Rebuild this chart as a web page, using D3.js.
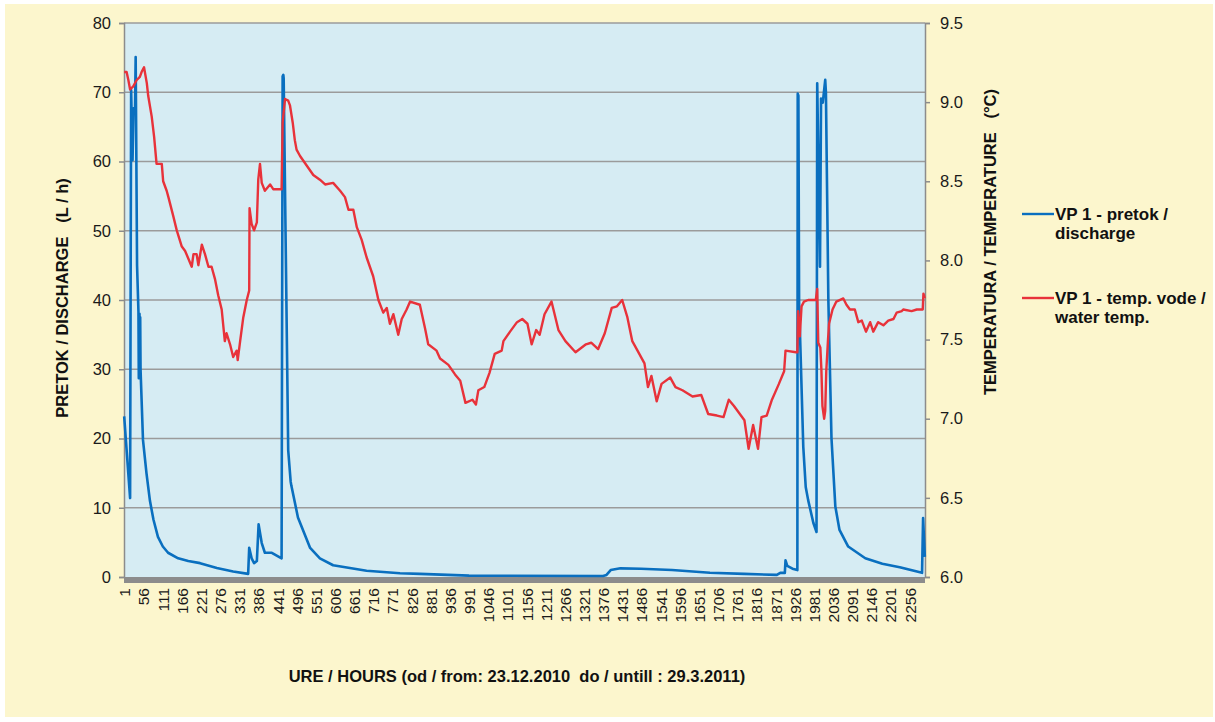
<!DOCTYPE html>
<html>
<head>
<meta charset="utf-8">
<script src="https://cdn.jsdelivr.net/npm/d3@7"></script>
<style>
  html, body { margin: 0; padding: 0; background: #ffffff; }
  svg { display: block; font-family: Arial, "Liberation Sans", sans-serif; }
</style>
</head>
<body>
<div id="chart"></div>
<script>
// hours of the record (23.12.2010 - 29.3.2011)
const hourCount = 2300;

const xTickLabels = [1, 56, 111, 166, 221, 276, 331, 386, 441, 496, 551, 606, 661, 716, 771, 826,
  881, 936, 991, 1046, 1101, 1156, 1211, 1266, 1321, 1376, 1431, 1486, 1541, 1596, 1651, 1706,
  1761, 1816, 1871, 1926, 1981, 2036, 2091, 2146, 2201, 2256];
const flowTicks = [0, 10, 20, 30, 40, 50, 60, 70, 80];
const tempTicks = [6.0, 6.5, 7.0, 7.5, 8.0, 8.5, 9.0, 9.5];

// VP 1 - pretok / discharge (L/h)
const flowHours = [1, 18, 21, 25, 28, 32, 34, 38, 42, 43, 45, 46, 47, 48, 55, 65, 75, 85, 98, 112,
  127, 156, 185, 219, 267, 314, 357, 360, 367, 374, 382, 387, 396, 405, 425, 453, 456, 458, 459,
  472, 479, 481, 500, 535, 563, 601, 697, 793, 850, 991, 1376, 1386, 1398, 1426, 1485, 1574, 1683,
  1781, 1875, 1885, 1898, 1900, 1905, 1920, 1934, 1935, 1937, 1939, 1951, 1958, 1965, 1980, 1989,
  1991, 1999, 2002, 2007, 2014, 2016, 2023, 2032, 2043, 2055, 2080, 2129, 2178, 2228, 2292, 2295, 2300];
const flowValues = [23.2, 11.4, 70.3, 60.2, 67.7, 67.0, 75.1, 45, 38.3, 28.7, 38, 29, 37.5, 30, 19.8,
  15, 11, 8.3, 5.8, 4.4, 3.5, 2.7, 2.3, 2.0, 1.3, 0.8, 0.45, 4.2, 2.7, 2.0, 2.3, 7.6, 4.9, 3.5, 3.5,
  2.7, 72.3, 72.5, 72, 18.3, 13.8, 13.2, 8.6, 4.2, 2.7, 1.7, 0.9, 0.55, 0.45, 0.2, 0.15, 0.3, 1.0,
  1.25, 1.2, 1.0, 0.62, 0.45, 0.3, 0.6, 0.6, 2.4, 1.6, 1.2, 1.0, 69.8, 69.5, 39.6, 18.8, 13, 11.1,
  7.8, 6.5, 71.3, 44.8, 69.1, 68.5, 71.8, 70, 40, 20, 10.2, 6.8, 4.4, 2.7, 1.9, 1.4, 0.6, 8.5, 2.9];

// VP 1 - temp. vode / water temp. (°C)
const tempHours = [1, 8, 13, 18, 27, 37, 46, 51, 58, 66, 70, 80, 87, 94, 109, 113, 123, 128, 142, 152,
  166, 176, 195, 200, 209, 214, 224, 233, 243, 252, 262, 271, 281, 290, 295, 305, 314, 324, 327, 334,
  343, 353, 360, 361, 367, 374, 382, 386, 391, 396, 405, 420, 429, 453, 456, 463, 472, 477, 485, 491,
  496, 506, 525, 544, 563, 578, 601, 621, 635, 645, 659, 669, 683, 697, 716, 731, 745, 755, 764, 774,
  788, 798, 812, 822, 850, 865, 874, 898, 908, 932, 951, 966, 981, 1001, 1011, 1018, 1035, 1050, 1065,
  1085, 1090, 1109, 1129, 1144, 1159, 1171, 1184, 1194, 1208, 1228, 1248, 1268, 1297, 1327, 1342,
  1362, 1381, 1401, 1416, 1431, 1446, 1460, 1475, 1495, 1505, 1515, 1530, 1544, 1569, 1584, 1604,
  1633, 1658, 1678, 1703, 1722, 1737, 1752, 1772, 1782, 1794, 1807, 1821, 1831, 1846, 1861, 1881,
  1896, 1900, 1930, 1934, 1936, 1941, 1946, 1953, 1965, 1987, 1991, 1994, 2000, 2003, 2006, 2011,
  2014, 2017, 2022, 2025, 2035, 2046, 2066, 2075, 2085, 2099, 2109, 2119, 2131, 2143, 2152, 2166,
  2181, 2195, 2210, 2219, 2234, 2238, 2262, 2277, 2294, 2296, 2300];
const tempValues = [9.19, 9.19, 9.14, 9.08, 9.10, 9.14, 9.16, 9.19, 9.22, 9.12, 9.04, 8.91, 8.78, 8.61,
  8.61, 8.50, 8.44, 8.40, 8.28, 8.19, 8.09, 8.06, 7.96, 8.04, 8.04, 7.97, 8.10, 8.04, 7.96, 7.96, 7.88,
  7.78, 7.69, 7.49, 7.54, 7.47, 7.39, 7.43, 7.37, 7.49, 7.64, 7.75, 7.81, 8.33, 8.23, 8.19, 8.24, 8.51,
  8.61, 8.49, 8.44, 8.48, 8.45, 8.45, 8.87, 9.02, 9.01, 8.98, 8.87, 8.76, 8.70, 8.66, 8.60, 8.54, 8.51,
  8.48, 8.49, 8.44, 8.40, 8.32, 8.32, 8.21, 8.13, 8.02, 7.90, 7.75, 7.67, 7.70, 7.60, 7.66, 7.53, 7.63,
  7.69, 7.74, 7.72, 7.57, 7.47, 7.43, 7.38, 7.34, 7.28, 7.24, 7.10, 7.12, 7.09, 7.18, 7.20, 7.29, 7.41,
  7.43, 7.49, 7.55, 7.61, 7.63, 7.60, 7.47, 7.56, 7.53, 7.66, 7.74, 7.56, 7.49, 7.42, 7.47, 7.48, 7.44,
  7.54, 7.70, 7.71, 7.75, 7.64, 7.49, 7.43, 7.35, 7.20, 7.27, 7.11, 7.22, 7.26, 7.20, 7.18, 7.14, 7.15,
  7.03, 7.02, 7.01, 7.12, 7.08, 7.02, 6.99, 6.81, 6.96, 6.81, 7.01, 7.02, 7.12, 7.22, 7.30, 7.43, 7.42,
  7.42, 7.68, 7.52, 7.71, 7.74, 7.75, 7.75, 7.82, 7.48, 7.45, 7.31, 7.08, 7.00, 7.05, 7.30, 7.50, 7.60,
  7.69, 7.74, 7.76, 7.72, 7.69, 7.69, 7.61, 7.62, 7.55, 7.61, 7.55, 7.61, 7.59, 7.62, 7.63, 7.67, 7.68,
  7.69, 7.68, 7.69, 7.69, 7.79, 7.76];

const width = 1215, height = 722;
const plot = { left: 124, right: 925, top: 23, bottom: 577 };
const fontStack = "Arial, 'Liberation Sans', sans-serif";

const svg = d3.select("#chart").append("svg")
  .attr("width", width)
  .attr("height", height);

svg.append("rect")
  .attr("x", 5).attr("y", 4)
  .attr("width", 1208).attr("height", 713)
  .attr("fill", "#fcf6cd");

svg.append("rect")
  .attr("x", plot.left).attr("y", plot.top)
  .attr("width", plot.right - plot.left).attr("height", plot.bottom - plot.top)
  .attr("fill", "#d6ecf3");

const x = d3.scaleLinear().domain([0.5, hourCount + 0.5]).range([plot.left, plot.right]);
const yFlow = d3.scaleLinear().domain([0, 80]).range([plot.bottom, plot.top]);
const yTemp = d3.scaleLinear().domain([6, 9.5]).range([plot.bottom, plot.top]);

// gridlines
svg.append("g").selectAll("line")
  .data(flowTicks.filter(d => d > 0))
  .join("line")
  .attr("x1", plot.left).attr("x2", plot.right)
  .attr("y1", d => yFlow(d)).attr("y2", d => yFlow(d))
  .attr("stroke", "#9b9b9b")
  .attr("stroke-width", 1.5);

// left axis
const leftAxisG = svg.append("g")
  .attr("transform", `translate(${plot.left},0)`)
  .call(d3.axisLeft(yFlow).tickValues(flowTicks).tickSize(5).tickPadding(8));
leftAxisG.select(".domain").attr("stroke", "#8c8c8c").attr("stroke-width", 1.5);
leftAxisG.selectAll(".tick line").attr("stroke", "#8c8c8c").attr("stroke-width", 1.5);
leftAxisG.selectAll("text").attr("font-size", "16.5px").attr("fill", "#1a1a1a")
  .attr("font-family", fontStack);

// right axis
const rightAxisG = svg.append("g")
  .attr("transform", `translate(${plot.right},0)`)
  .call(d3.axisRight(yTemp).tickValues(tempTicks).tickSize(5).tickPadding(10).tickFormat(d3.format(".1f")));
rightAxisG.select(".domain").attr("stroke", "#8c8c8c").attr("stroke-width", 1.5);
rightAxisG.selectAll(".tick line").attr("stroke", "#8c8c8c").attr("stroke-width", 1.5);
rightAxisG.selectAll("text").attr("font-size", "16.5px").attr("fill", "#1a1a1a")
  .attr("font-family", fontStack);

// bottom axis (thick band) with rotated labels
const bottomAxisG = svg.append("g")
  .attr("transform", `translate(0,${plot.bottom + 6})`)
  .call(d3.axisBottom(x).tickValues(xTickLabels).tickSize(0).tickFormat(d => d));
bottomAxisG.select(".domain").remove();
bottomAxisG.selectAll("text")
  .attr("transform", "rotate(-90)")
  .attr("x", -5).attr("y", 0).attr("dy", "0.36em")
  .attr("text-anchor", "end")
  .attr("font-size", "15.5px").attr("fill", "#1a1a1a")
  .attr("font-family", fontStack);

svg.append("line")
  .attr("x1", plot.left).attr("x2", plot.right)
  .attr("y1", plot.bottom + 3).attr("y2", plot.bottom + 3)
  .attr("stroke", "#8c8c8c")
  .attr("stroke-width", 6);

// series
const flowData = flowHours.map((h, i) => ({ h: h, v: flowValues[i] }));
const tempData = tempHours.map((h, i) => ({ h: h, v: tempValues[i] }));

svg.append("path")
  .datum(flowData)
  .attr("fill", "none")
  .attr("stroke", "#0a6fbf")
  .attr("stroke-width", 2.6)
  .attr("stroke-linejoin", "round")
  .attr("d", d3.line().x(d => x(d.h)).y(d => yFlow(d.v)));

svg.append("path")
  .datum(tempData)
  .attr("fill", "none")
  .attr("stroke", "#e8323a")
  .attr("stroke-width", 2.4)
  .attr("stroke-linejoin", "round")
  .attr("d", d3.line().x(d => x(d.h)).y(d => yTemp(d.v)));

// axis titles
svg.append("text")
  .attr("transform", "translate(68,298) rotate(-90)")
  .attr("text-anchor", "middle")
  .attr("font-size", "16.5px").attr("font-weight", "bold").attr("fill", "#111")
  .style("white-space", "pre")
  .text("PRETOK / DISCHARGE   (L / h)");

svg.append("text")
  .attr("transform", "translate(996,242) rotate(-90)")
  .attr("text-anchor", "middle")
  .attr("font-size", "16.5px").attr("font-weight", "bold").attr("fill", "#111")
  .style("white-space", "pre")
  .text("TEMPERATURA / TEMPERATURE   (°C)");

svg.append("text")
  .attr("x", 517).attr("y", 682)
  .attr("text-anchor", "middle")
  .attr("font-size", "16.5px").attr("font-weight", "bold").attr("fill", "#111")
  .style("white-space", "pre")
  .text("URE / HOURS (od / from: 23.12.2010  do / untill : 29.3.2011)");

// legend
const legendItems = [
  { color: "#0a6fbf", lines: ["VP 1 - pretok /", "discharge"], y: 214 },
  { color: "#e8323a", lines: ["VP 1 - temp. vode /", "water temp."], y: 298 }
];
const legend = svg.append("g");
legendItems.forEach(item => {
  legend.append("line")
    .attr("x1", 1022).attr("x2", 1054)
    .attr("y1", item.y).attr("y2", item.y)
    .attr("stroke", item.color).attr("stroke-width", 2.4);
  const t = legend.append("text")
    .attr("x", 1055).attr("y", item.y + 6)
    .attr("font-size", "17px").attr("font-weight", "bold").attr("fill", "#111");
  item.lines.forEach((line, i) => {
    t.append("tspan").attr("x", 1055).attr("dy", i === 0 ? 0 : 19).text(line);
  });
});
</script>
</body>
</html>
